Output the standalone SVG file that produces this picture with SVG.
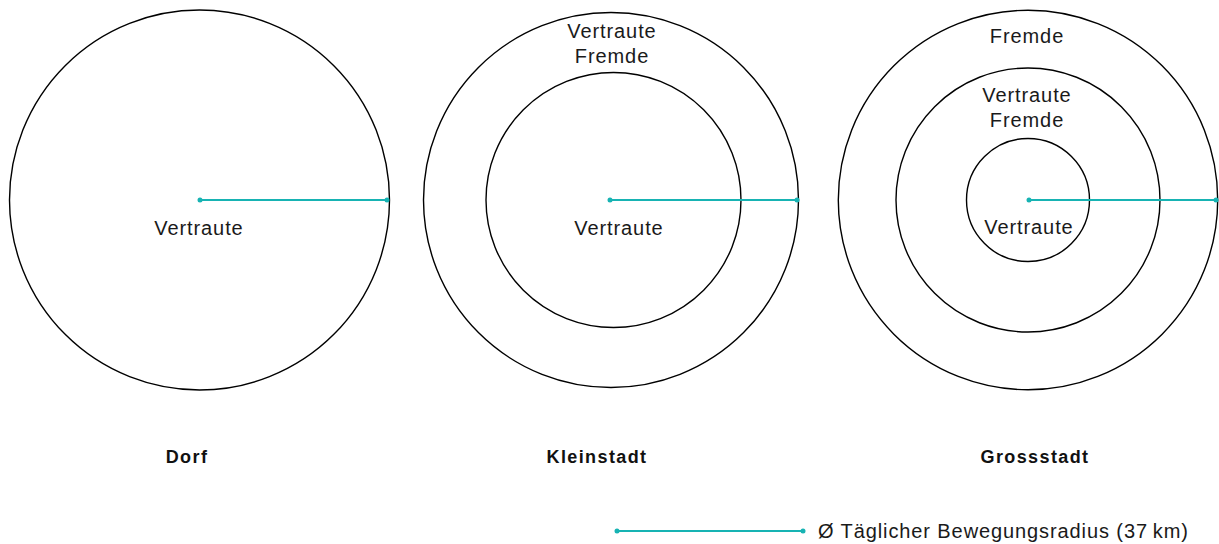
<svg xmlns="http://www.w3.org/2000/svg" width="1219" height="544" viewBox="0 0 1219 544">
<style>
.ring{fill:none;stroke:#000;stroke-width:1.4}
.t{font-family:"Liberation Sans",Arial,sans-serif;font-size:20px;fill:#1a1a1a;text-anchor:middle;letter-spacing:0.9px}
.b{font-family:"Liberation Sans",Arial,sans-serif;font-size:18px;font-weight:bold;fill:#111;text-anchor:middle;letter-spacing:1.4px}
.r{stroke:#17b3b3;stroke-width:2;fill:none}
.d{fill:#17b3b3}
</style>
<rect width="1219" height="544" fill="#fff"/>
<g id="dorf">
<circle class="ring" cx="199.5" cy="200" r="190"/>
<text class="t" x="199" y="235">Vertraute</text>
<text class="b" x="187" y="463">Dorf</text>
</g>
<g id="kleinstadt">
<circle class="ring" cx="611" cy="200" r="187.5"/>
<circle class="ring" cx="613.5" cy="200" r="127.5"/>
<text class="t" x="612" y="38">Vertraute</text>
<text class="t" x="612" y="63">Fremde</text>
<text class="t" x="619" y="235">Vertraute</text>
<text class="b" x="597" y="463">Kleinstadt</text>
</g>
<g id="grossstadt">
<circle class="ring" cx="1028" cy="200" r="189.7"/>
<circle class="ring" cx="1028" cy="200" r="132"/>
<circle class="ring" cx="1028" cy="200" r="61.5"/>
<text class="t" x="1027" y="43">Fremde</text>
<text class="t" x="1027" y="102">Vertraute</text>
<text class="t" x="1027" y="127">Fremde</text>
<text class="t" x="1029" y="234">Vertraute</text>
<text class="b" x="1035" y="463">Grossstadt</text>
</g>
<g id="connectors">
<line class="r" x1="200" y1="200" x2="387" y2="200"/>
<circle class="d" cx="200" cy="200" r="2.5"/>
<circle class="d" cx="387" cy="200" r="2.5"/>
<line class="r" x1="610" y1="200" x2="797" y2="200"/>
<circle class="d" cx="610" cy="200" r="2.5"/>
<circle class="d" cx="797" cy="200" r="2.5"/>
<line class="r" x1="1029" y1="200" x2="1216" y2="200"/>
<circle class="d" cx="1029" cy="200" r="2.5"/>
<circle class="d" cx="1216" cy="200" r="2.5"/>
</g>
<g id="legend">
<line class="r" x1="617" y1="531" x2="803" y2="531"/>
<circle class="d" cx="617" cy="531" r="2.5"/>
<circle class="d" cx="803" cy="531" r="2.5"/>
<text class="t" x="818" y="538" style="text-anchor:start">Ø Täglicher Bewegungsradius (37&#8201;km)</text>
</g>
</svg>
